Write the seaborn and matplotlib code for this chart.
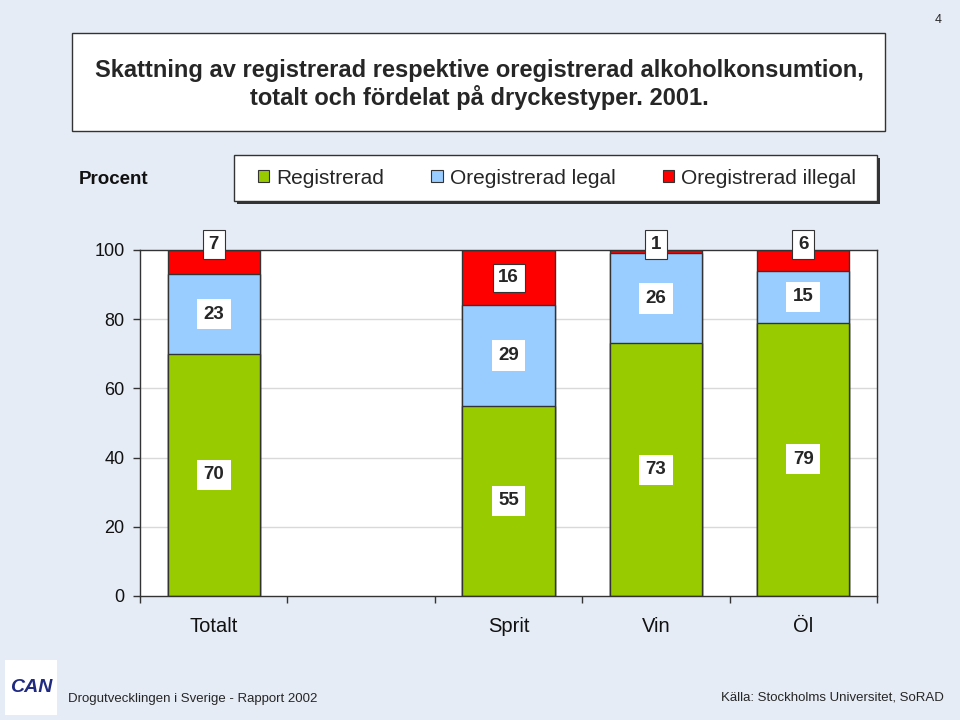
import numpy as np
import pandas as pd
import matplotlib.pyplot as plt
import seaborn as sns
from matplotlib.patches import Rectangle

# chart values
categories = ["Totalt", "", "Sprit", "Vin", "Öl"]
registrerad = [70, None, 55, 73, 79]
oreg_legal = [23, None, 29, 26, 15]
oreg_illegal = [7, None, 16, 1, 6]
series_names = ["Registrerad", "Oregistrerad legal", "Oregistrerad illegal"]
series_colors = ["#99CC00", "#99CCFF", "#FF0000"]
y_ticks = [0, 20, 40, 60, 80, 100]

title_text = ("Skattning av registrerad respektive oregistrerad alkoholkonsumtion,\n"
              "totalt och fördelat på dryckestyper. 2001.")
footer_left = "Drogutvecklingen i Sverige - Rapport 2002"
footer_right = "Källa: Stockholms Universitet, SoRAD"

sns.set_theme(style="white")
plt.rcParams['font.family'] = ['Liberation Sans', 'DejaVu Sans']

BG = "#E6ECF5"
EDGE = "#333333"

df = pd.DataFrame({
    "kategori": categories,
    "reg": registrerad,
    "legal": oreg_legal,
    "illegal": oreg_illegal,
}).dropna()
df["cum_legal"] = df["reg"] + df["legal"]
df["cum_illegal"] = df["cum_legal"] + df["illegal"]

fig = plt.figure(figsize=(9.6, 7.2), dpi=100, facecolor=BG)
ax = fig.add_axes([140 / 960, 1 - 596 / 720, 737 / 960, 346 / 720])
ax.set_facecolor("white")

# stacked bars: draw cumulative totals back to front
for col, color in zip(["cum_illegal", "cum_legal", "reg"], series_colors[::-1]):
    sns.barplot(data=df, x="kategori", y=col, order=categories, color=color,
                width=0.625, edgecolor=EDGE, linewidth=1, ax=ax, errorbar=None,
                saturation=1, zorder=3)

ax.set_xlim(-0.5, len(categories) - 0.5)
ax.set_ylim(0, 100)
ax.set_xlabel("")
ax.set_ylabel("")
ax.set_yticks(y_ticks)
ax.set_yticklabels([str(v) for v in y_ticks], fontsize=13, color="#111111")
ax.set_xticks(range(len(categories)))
ax.set_xticklabels(categories, fontsize=14.5, color="#111111")
ax.set_xticks(np.arange(-0.5, len(categories)), minor=True)
ax.tick_params(axis="x", which="major", length=0, pad=15)
ax.tick_params(axis="x", which="minor", length=5, width=1, color=EDGE, direction="out", bottom=True)
ax.tick_params(axis="y", length=5, width=1, color=EDGE, direction="out", left=True, pad=6)
for y in y_ticks[1:-1]:
    ax.axhline(y, color="#D9D9D9", lw=1, zorder=1)
for s in ax.spines.values():
    s.set_color(EDGE)
    s.set_linewidth(1)
    s.set_zorder(5)

# value labels in white boxes
box = dict(boxstyle="square,pad=0.35", fc="white", ec="none")
box_top = dict(boxstyle="square,pad=0.3", fc="white", ec=EDGE, lw=0.8)
for i, cat in enumerate(categories):
    if registrerad[i] is None:
        continue
    r, l, il = registrerad[i], oreg_legal[i], oreg_illegal[i]
    ax.text(i, r / 2, str(r), ha="center", va="center", fontsize=13.5,
            fontweight="bold", bbox=box, zorder=6)
    ax.text(i, r + l / 2, str(l), ha="center", va="center", fontsize=13.5,
            fontweight="bold", bbox=box, zorder=6)
    if il < 10:
        ax.text(i, 101.6, str(il), ha="center", va="center", fontsize=13.5,
                fontweight="bold", bbox=box_top, zorder=6, clip_on=False)
    else:
        ax.text(i, r + l + il / 2, str(il), ha="center", va="center", fontsize=13.5,
                fontweight="bold", bbox=box_top, zorder=6)

# title box
fig.patches.append(Rectangle((72 / 960, 1 - 131 / 720), 813 / 960, 98 / 720,
                             transform=fig.transFigure, fc="white", ec=EDGE, lw=1))
fig.text(479 / 960, 1 - 84.5 / 720, title_text, ha="center", va="center",
         fontsize=17, fontweight="bold", linespacing=1.2)

# legend with a shadowed box
fig.patches.append(Rectangle((237 / 960, 1 - 204 / 720), 643 / 960, 46 / 720,
                             transform=fig.transFigure, fc="#333333", ec="none"))
fig.patches.append(Rectangle((234 / 960, 1 - 201 / 720), 643 / 960, 46 / 720,
                             transform=fig.transFigure, fc="white", ec=EDGE, lw=1))
handles = [Rectangle((0, 0), 1, 1, fc=c, ec=EDGE, lw=0.8) for c in series_colors]
leg = fig.legend(handles, series_names, loc="center", ncol=3,
                 bbox_to_anchor=(557 / 960, 1 - 178 / 720), fontsize=15,
                 frameon=False, handlelength=0.55, handleheight=0.55,
                 handletextpad=0.35, columnspacing=2.25, borderpad=0)

fig.text(79 / 960, 1 - 179 / 720, "Procent", ha="left", va="center",
         fontsize=13.5, fontweight="bold", color="#111111")
fig.text(938 / 960, 1 - 20 / 720, "4", ha="center", va="center", fontsize=9)

# footer
fig.patches.append(Rectangle((5 / 960, 1 - 715 / 720), 52 / 960, 55 / 720,
                             transform=fig.transFigure, fc="white", ec="none"))
fig.text(31 / 960, 1 - 688 / 720, "CAN", ha="center", va="center", fontsize=14,
         fontweight="bold", style="italic", color="#1F2A80")
fig.text(68 / 960, 1 - 699 / 720, footer_left, ha="left", va="center", fontsize=9.5)
fig.text(944 / 960, 1 - 698 / 720, footer_right, ha="right", va="center", fontsize=9.5)

fig.savefig("out.png", dpi=100, facecolor=BG)
